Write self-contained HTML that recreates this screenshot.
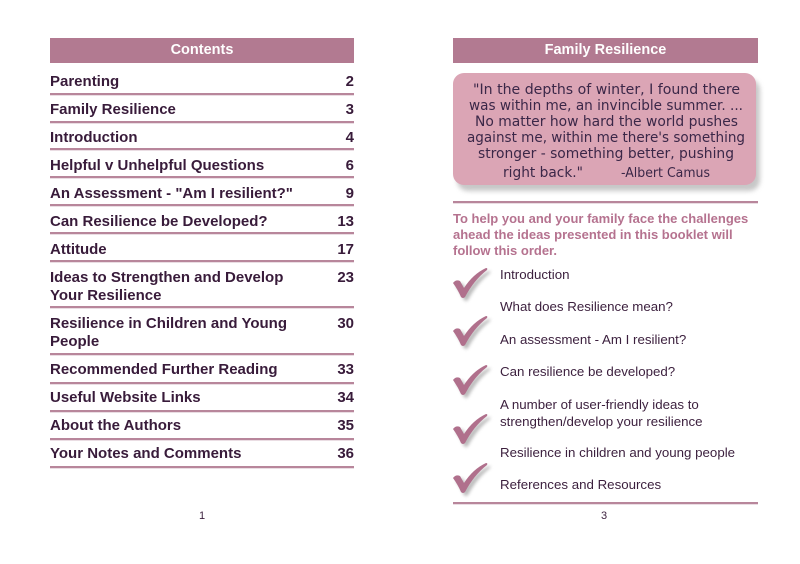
<!DOCTYPE html>
<html><head><meta charset="utf-8">
<style>
*{margin:0;padding:0;box-sizing:border-box}
html,body{width:800px;height:564px;background:#fff;overflow:hidden}
body{position:relative;font-family:"Liberation Sans",sans-serif;color:#3b1f3d}
.hdr{position:absolute;height:25px;background:#b27a91;color:#fff;font-weight:bold;font-size:14.5px;text-align:center;line-height:24px}
.ln{position:absolute;left:50px;width:304px;height:2px;background:#b8869b;box-shadow:0 1px 0 #eadde3}
.rl{position:absolute;left:453px;width:305px;height:2px;background:#b8869b;box-shadow:0 1px 0 #eadde3}
.it{position:absolute;left:50px;width:304px;font-weight:bold;font-size:15px;line-height:18px;color:#381b3a}
.it .n{position:absolute;right:0;top:0}
.li{position:absolute;left:500px;font-size:13.3px;line-height:17px;color:#3b1f3d;white-space:nowrap}
.pg{position:absolute;font-size:11px;color:#3b1f3d}
.intro{position:absolute;left:453px;top:211px;width:310px;font-weight:bold;font-size:13px;line-height:16px;color:#b5728f}
</style></head><body>

<div class="hdr" style="left:50px;top:38px;width:304px;">Contents</div>

<div class="it" style="top:73px">Parenting<span class="n">2</span></div>
<div class="ln" style="top:93px"></div>
<div class="it" style="top:101px">Family Resilience<span class="n">3</span></div>
<div class="ln" style="top:121px"></div>
<div class="it" style="top:129px">Introduction<span class="n">4</span></div>
<div class="ln" style="top:148px"></div>
<div class="it" style="top:157px">Helpful v Unhelpful Questions<span class="n">6</span></div>
<div class="ln" style="top:176px"></div>
<div class="it" style="top:185px">An Assessment - "Am I resilient?"<span class="n">9</span></div>
<div class="ln" style="top:204px"></div>
<div class="it" style="top:213px">Can Resilience be Developed?<span class="n">13</span></div>
<div class="ln" style="top:232px"></div>
<div class="it" style="top:241px">Attitude<span class="n">17</span></div>
<div class="ln" style="top:260px"></div>
<div class="it" style="top:269px">Ideas to Strengthen and Develop<br>Your Resilience<span class="n">23</span></div>
<div class="ln" style="top:306px"></div>
<div class="it" style="top:315px">Resilience in Children and Young<br>People<span class="n">30</span></div>
<div class="ln" style="top:353px"></div>
<div class="it" style="top:361px">Recommended Further Reading<span class="n">33</span></div>
<div class="ln" style="top:382px"></div>
<div class="it" style="top:389px">Useful Website Links<span class="n">34</span></div>
<div class="ln" style="top:410px"></div>
<div class="it" style="top:417px">About the Authors<span class="n">35</span></div>
<div class="ln" style="top:438px"></div>
<div class="it" style="top:445px">Your Notes and Comments<span class="n">36</span></div>
<div class="ln" style="top:466px"></div>

<div class="pg" style="left:199px;top:510px">1</div>

<!-- Right page -->
<div class="hdr" style="left:453px;top:38px;width:305px;line-height:25px;">Family Resilience</div>

<svg style="position:absolute;left:0;top:0" width="800" height="564">
  <defs>
    <filter id="sh" x="-20%" y="-20%" width="140%" height="160%">
      <feGaussianBlur stdDeviation="2.5"/>
    </filter>
    <filter id="sh2" x="-30%" y="-30%" width="160%" height="160%">
      <feGaussianBlur stdDeviation="1.6"/>
    </filter>
    <g id="chk">
      <path d="M0,15 Q3,11 7,13 L11,20 Q20,6 33,0 Q35,0 34,2 Q21,12 12,29 Q10,31 8,29 Q5,22 0,15 Z"/>
    </g>
  </defs>
  <rect x="457" y="79" width="303" height="112" rx="11" fill="#9a9a9a" opacity="0.55" filter="url(#sh)"/>
  <rect x="453" y="73" width="303" height="112" rx="11" fill="#dba5b5"/>
  <g font-family="'DejaVu Sans',sans-serif" font-size="14" fill="#3b2748">
    <text x="473" y="94" textLength="267" lengthAdjust="spacingAndGlyphs">"In the depths of winter, I found there</text>
    <text x="469" y="110" textLength="274" lengthAdjust="spacingAndGlyphs">was within me, an invincible summer. ...</text>
    <text x="475" y="126" textLength="263" lengthAdjust="spacingAndGlyphs">No matter how hard the world pushes</text>
    <text x="467" y="142" textLength="278" lengthAdjust="spacingAndGlyphs">against me, within me there's something</text>
    <text x="478" y="158" textLength="256" lengthAdjust="spacingAndGlyphs">stronger - something better, pushing</text>
    <text x="503" y="177" textLength="80" lengthAdjust="spacingAndGlyphs">right back."</text>
    <text x="621" y="177" font-size="13" textLength="89" lengthAdjust="spacingAndGlyphs">-Albert Camus</text>
  </g>
  <g>
    <use href="#chk" x="456" y="271" fill="#8f8f8f" opacity="0.6" filter="url(#sh2)"/>
    <use href="#chk" x="453" y="268" fill="#b0708c"/>
    <use href="#chk" x="456" y="319" fill="#8f8f8f" opacity="0.6" filter="url(#sh2)"/>
    <use href="#chk" x="453" y="316" fill="#b0708c"/>
    <use href="#chk" x="456" y="368" fill="#8f8f8f" opacity="0.6" filter="url(#sh2)"/>
    <use href="#chk" x="453" y="365" fill="#b0708c"/>
    <use href="#chk" x="456" y="417" fill="#8f8f8f" opacity="0.6" filter="url(#sh2)"/>
    <use href="#chk" x="453" y="414" fill="#b0708c"/>
    <use href="#chk" x="456" y="466" fill="#8f8f8f" opacity="0.6" filter="url(#sh2)"/>
    <use href="#chk" x="453" y="463" fill="#b0708c"/>
  </g>
</svg>

<div class="rl" style="top:201px"></div>

<div class="intro">To help you and your family face the challenges ahead the ideas presented in this booklet will follow this order.</div>

<div class="li" style="top:266px">Introduction</div>
<div class="li" style="top:298px">What does Resilience mean?</div>
<div class="li" style="top:331px">An assessment - Am I resilient?</div>
<div class="li" style="top:363px">Can resilience be developed?</div>
<div class="li" style="top:396px">A number of user-friendly ideas to<br>strengthen/develop your resilience</div>
<div class="li" style="top:444px">Resilience in children and young people</div>
<div class="li" style="top:476px">References and Resources</div>

<div class="rl" style="top:502px"></div>

<div class="pg" style="left:601px;top:510px">3</div>

</body></html>
